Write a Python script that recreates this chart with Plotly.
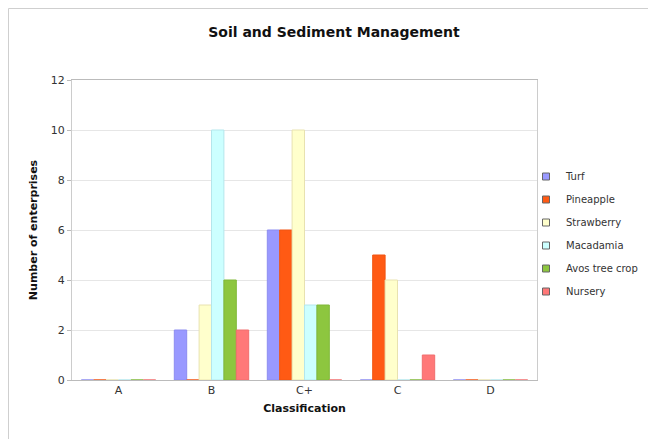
import plotly.graph_objects as go

categories = ["A", "B", "C+", "C", "D"]
turf = [0, 2, 6, 0, 0]
pineapple = [0, 0, 6, 5, 0]
strawberry = [0, 3, 10, 4, 0]
macadamia = [0, 10, 3, 0, 0]
avos = [0, 4, 3, 0, 0]
nursery = [0, 2, 0, 1, 0]

series_names = ["Turf", "Pineapple", "Strawberry", "Macadamia", "Avos tree crop", "Nursery"]
series_values = [turf, pineapple, strawberry, macadamia, avos, nursery]
colors = ["#9999FF", "#FF5A14", "#FFFFCC", "#CCFFFF", "#8DC63F", "#FF7878"]
outlines = ["#8C8CF0", "#F05512", "#E8E2B0", "#B4E6EC", "#80B838", "#F06E6E"]

fig = go.Figure()
for i, (name, vals) in enumerate(zip(series_names, series_values)):
    fig.add_trace(go.Bar(
        x=categories, y=vals, name=name,
        marker=dict(color=colors[i], line=dict(color=outlines[i], width=1)),
        showlegend=False,
    ))
# legend entries with small square swatches, like the original
for i, name in enumerate(series_names):
    fig.add_trace(go.Scatter(
        x=[None], y=[None], mode="markers", name=name,
        marker=dict(symbol="square", size=7, color=colors[i],
                    line=dict(color="#666666", width=1)),
        legendgroup=f"g{i}", hoverinfo="skip",
    ))

title_font = "DejaVu Sans, Liberation Sans, Arial, sans-serif"
body_font = "DejaVu Sans, Liberation Sans, Arial, sans-serif"

# The page body has an 8px margin, so the figure is drawn 8px in from the top-left.
off = 8
W, H = 656 - off, 447 - 2 * off
left, right, top, bottom = 72, 537, 80, 380  # plot area in page pixels
pw, ph = right - left, bottom - top

def px_x(p):
    return (p - left) / pw

def px_y(p):
    return (bottom - p) / ph

border = dict(color="#CFCFCF", width=1)
fig.update_layout(
    width=W, height=H,
    margin=dict(l=left - off, r=W - (right - off), t=top - off, b=H - (bottom - off)),
    paper_bgcolor="white", plot_bgcolor="white",
    barmode="group", bargap=0.2, bargroupgap=0,
    font=dict(family=body_font, size=11, color="#222222"),
    title=dict(text="<b>Soil and Sediment Management</b>",
               x=(334 - off) / W, xanchor="center", y=1 - (32 - off) / H, yanchor="middle",
               yref="container", font=dict(family=title_font, size=14, color="#111111")),
    legend=dict(x=(526 - left) / pw, xanchor="left", y=(bottom - 162) / ph, yanchor="top",
                font=dict(family=body_font, size=10, color="#333333"), tracegroupgap=4,
                bgcolor="rgba(0,0,0,0)"),
    showlegend=True,
    xaxis=dict(
        title=dict(text="<b>Classification</b>", font=dict(family=title_font, size=11, color="#111111"), standoff=8),
        showline=True, linecolor="#BBBBBB", linewidth=1, mirror=True,
        ticks="", showgrid=False, tickfont=dict(size=11, color="#333333"),
    ),
    yaxis=dict(
        title=dict(text="<b>Number of enterprises</b>", font=dict(family=title_font, size=11, color="#111111"), standoff=10),
        range=[0, 12], dtick=2, showline=True, linecolor="#CCCCCC", linewidth=1, mirror=True,
        ticks="outside", ticklen=4, tickcolor="#BBBBBB",
        showgrid=True, gridcolor="#E6E6E6", gridwidth=1, zeroline=False,
        tickfont=dict(size=11, color="#333333"),
    ),
    shapes=[
        dict(type="line", xref="paper", yref="paper", x0=px_x(8.5), x1=px_x(8.5),
             y0=px_y(8.5), y1=px_y(447), line=border, layer="below"),
        dict(type="line", xref="paper", yref="paper", x0=px_x(8.5), x1=px_x(649.5),
             y0=px_y(8.5), y1=px_y(8.5), line=border, layer="below"),
        dict(type="line", xref="paper", yref="paper", x0=px_x(649.5), x1=px_x(649.5),
             y0=px_y(8.5), y1=px_y(447), line=border, layer="below"),
    ],
)

fig.write_html("out.html")
